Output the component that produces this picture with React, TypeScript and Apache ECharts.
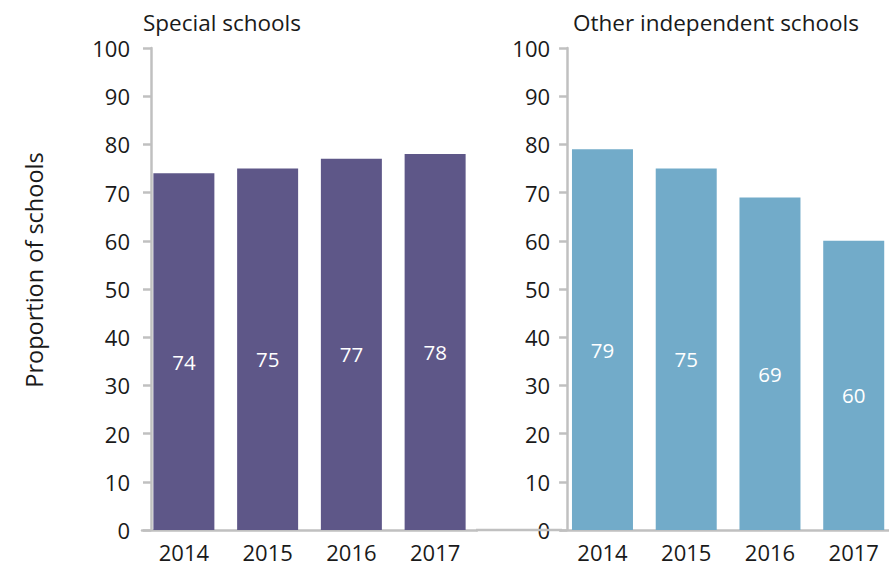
import React, { useEffect, useRef } from "react";
import * as echarts from "echarts";

const years = ["2014", "2015", "2016", "2017"];
const specialValues = [74, 75, 77, 78];
const otherValues = [79, 75, 69, 60];
const panelTitles = ["Special schools", "Other independent schools"];
const yAxisTitle = "Proportion of schools";

const FONT = "'Open Sans', 'Noto Sans', sans-serif";
const AXIS_GRAY = "#c0c0c0";
const TEXT = "#1a1a1a";

export default function App() {
  const ref = useRef<HTMLDivElement>(null);
  useEffect(() => {
    if (!ref.current) return;
    const chart = echarts.init(ref.current, undefined, { renderer: "svg" });
    const yAxisBase = (offset: number, margin: number, gridIndex: number) => ({
      type: "value",
      gridIndex,
      min: 0,
      max: 100,
      interval: 10,
      offset,
      axisLine: { show: true, lineStyle: { color: AXIS_GRAY, width: 2.5 } },
      axisTick: { show: true, length: 8, lineStyle: { color: AXIS_GRAY, width: 2.5 } },
      splitLine: { show: false },
      axisLabel: { color: TEXT, fontSize: 22, fontFamily: FONT, margin },
    });
    const xAxisBase = (gridIndex: number) => ({
      type: "category",
      gridIndex,
      data: years,
      axisLine: { show: true, lineStyle: { color: AXIS_GRAY, width: 2.5 } },
      axisTick: { show: false },
      axisLabel: { color: TEXT, fontSize: 22, fontFamily: FONT, margin: 11 },
    });
    const labelStyle = {
      show: true,
      position: "inside",
      offset: [0, 10],
      color: "#ffffff",
      fontSize: 20.5,
      fontFamily: FONT,
    };
    chart.setOption({
      animation: false,
      grid: [
        { left: 142, top: 48, width: 335, height: 482 },
        { left: 560.6, top: 48, width: 335, height: 482 },
      ],
      xAxis: [xAxisBase(0), xAxisBase(1)],
      yAxis: [yAxisBase(-9, 21, 0), yAxisBase(-6.5, 17, 1)],
      series: [
        {
          type: "bar",
          xAxisIndex: 0,
          yAxisIndex: 0,
          data: specialValues,
          barWidth: 61,
          itemStyle: { color: "#5e5788" },
          label: labelStyle,
        },
        {
          type: "bar",
          xAxisIndex: 1,
          yAxisIndex: 1,
          data: otherValues,
          barWidth: 61,
          itemStyle: { color: "#72abc9" },
          label: labelStyle,
        },
      ],
      graphic: [
        {
          type: "line",
          shape: { x1: 476, y1: 530, x2: 562, y2: 530 },
          style: { stroke: AXIS_GRAY, lineWidth: 2.5 },
          z: 1,
        },
        {
          type: "text",
          x: 143,
          y: 22,
          style: {
            text: panelTitles[0],
            fill: TEXT,
            fontSize: 22.5,
            fontFamily: FONT,
            verticalAlign: "middle",
          },
        },
        {
          type: "text",
          x: 573,
          y: 22,
          style: {
            text: panelTitles[1],
            fill: TEXT,
            fontSize: 22.5,
            fontFamily: FONT,
            verticalAlign: "middle",
          },
        },
        {
          type: "text",
          x: 34,
          y: 270,
          rotation: Math.PI / 2,
          style: {
            text: yAxisTitle,
            fill: TEXT,
            fontSize: 23.5,
            fontFamily: FONT,
            align: "center",
            verticalAlign: "middle",
          },
        },
      ],
    });
    return () => chart.dispose();
  }, []);
  return (
    <div
      style={{
        position: "fixed",
        left: 0,
        top: 0,
        width: 889,
        height: 568,
        overflow: "hidden",
        background: "#fff",
      }}
    >
      <div ref={ref} style={{ width: 900, height: 568 }} />
    </div>
  );
}
